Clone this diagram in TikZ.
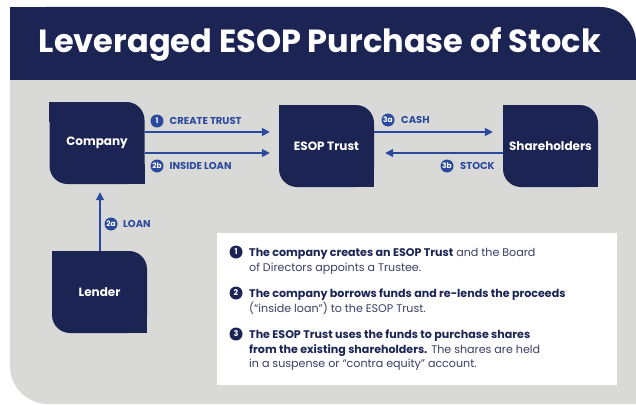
\documentclass[tikz,border=0pt]{standalone}
\usepackage{fontspec}
\setmainfont{Poppins}
\usetikzlibrary{arrows.meta}
\definecolor{navy}{HTML}{1C2454}
\definecolor{arrblue}{HTML}{2B4A9E}
\definecolor{bgray}{HTML}{D9D9D8}
\definecolor{txtreg}{HTML}{3A3F66}
\begin{document}
\begin{tikzpicture}[x=1pt,y=-1pt,
  box/.style={fill=navy, rounded corners=18pt, minimum width=95pt, minimum height=82pt, text=white, font=\bfseries\fontsize{12}{14}\selectfont, inner sep=0pt},
  arr/.style={draw=arrblue, line width=1.6pt, -{Triangle[length=8pt,width=8pt]}},
  num/.style={circle, fill=arrblue, text=white, inner sep=0pt, minimum size=13pt, font=\bfseries\fontsize{7.5}{7.5}\selectfont},
  lbl/.style={text=arrblue, font=\bfseries\fontsize{10}{12}\selectfont, anchor=west, inner sep=0pt},
  bnum/.style={num, fill=navy, minimum size=13pt, font=\bfseries\fontsize{8}{8}\selectfont},
  txt/.style={anchor=base west, inner sep=0pt, text=navy, font=\fontsize{11.1}{13}\selectfont}
]
\useasboundingbox (0,0) rectangle (636,404);
\fill[white] (0,0) rectangle (636,404);
% header
\fill[navy, rounded corners=36pt] (10,7) rectangle (636,120);
\fill[navy] (10,7) rectangle (60,60);
% gray body
\fill[bgray, rounded corners=38pt] (10,80) rectangle (700,404);
\fill[bgray] (10,80) rectangle (700,200);
\node[text=white, font=\bfseries\fontsize{32}{34}\selectfont, inner sep=0pt] (title) at (320,44) {Leveraged ESOP Purchase of Stock};
% boxes
\node[box] (company) at (97,143) {Company};
\node[box] (esop) at (326.5,146) {ESOP Trust};
\node[box] (share) at (550.5,146) {Shareholders};
\node[box] (lender) at (99.5,292) {Lender};
\foreach \n in {company,esop,share,lender}{
  \fill[navy] (\n.north west) rectangle ++(20,20);
  \fill[navy] (\n.south east) rectangle ++(-20,-20);
}
% connectors
\coordinate (r1) at (0,132);
\coordinate (r2) at (0,153);
\coordinate (cx) at (100,0);
\draw[arr, shorten >=9pt] (company.east |- r1) -- (esop.west |- r1);
\draw[arr, shorten >=9pt] (company.east |- r2) -- (esop.west |- r2);
\draw[arr, shorten >=10pt] (esop.east |- r1) -- (share.west |- r1);
\draw[arr, shorten >=11pt] (share.west |- r2) -- (esop.east |- r2);
\draw[arr, shorten >=8pt] (lender.north -| cx) -- (company.south -| cx);
% labels
\node[num] (n1) at (157,121) {1}; \node[lbl] (l1) at (169.5,121) {CREATE TRUST};
\node[num] (n2b) at (157,166) {2b}; \node[lbl] (l2b) at (169.5,166) {INSIDE LOAN};
\node[num] (n3a) at (388,120) {3a}; \node[lbl] (l3a) at (401,120) {CASH};
\node[num] (n3b) at (447,166) {3b}; \node[lbl] (l3b) at (460,166) {STOCK};
\node[num] (n2a) at (111,224) {2a}; \node[lbl] (l2a) at (123,224) {LOAN};
% text box
\fill[white] (217,233) rectangle (617,385);
\node[bnum] (b1) at (236,252) {1};
\node[bnum] (b2) at (236,293) {2};
\node[bnum] (b3) at (236,334) {3};
\node[txt] (t11) at (249,256) {\textbf{The company creates an ESOP Trust} \textcolor{txtreg}{and the Board}};
\node[txt] (t12) at (249,271) {\textcolor{txtreg}{of Directors appoints a Trustee.}};
\node[txt] (t21) at (249,297) {\textbf{The company borrows funds and re-lends the proceeds}};
\node[txt] (t22) at (249,312) {\textcolor{txtreg}{(“inside loan”) to the ESOP Trust.}};
\node[txt] (t31) at (249,338) {\textbf{The ESOP Trust uses the funds to purchase shares}};
\node[txt] (t32) at (249,353) {\textbf{from the existing shareholders.} \textcolor{txtreg}{The shares are held}};
\node[txt] (t33) at (249,367) {\textcolor{txtreg}{in a suspense or “contra equity” account.}};
\end{tikzpicture}
\end{document}
